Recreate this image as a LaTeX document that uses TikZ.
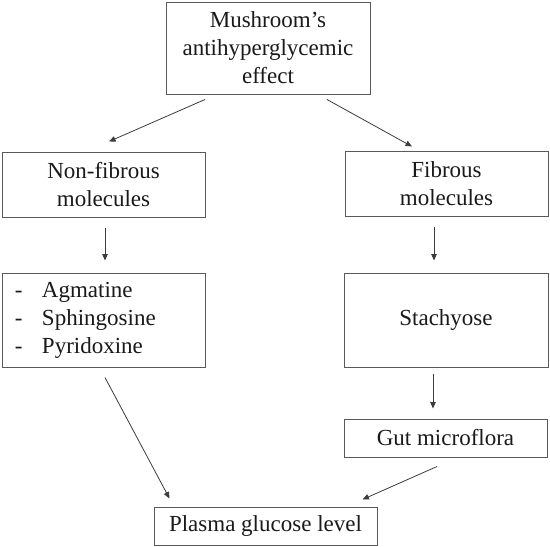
\documentclass[tikz,border=0pt]{standalone}
\usepackage{fontspec}
\setmainfont{Liberation Serif}
\usetikzlibrary{calc,arrows.meta}
\definecolor{boxline}{HTML}{5A5A5A}
\definecolor{arrline}{HTML}{3C3C3C}
\definecolor{txt}{HTML}{1A1A1A}
\begin{document}
\begin{tikzpicture}[x=1pt,y=-1pt,
  box/.style={draw=boxline,line width=1pt,rectangle,inner sep=0pt,text=txt,align=center,
    font=\fontsize{23}{28}\selectfont},
  arr/.style={draw=arrline,line width=0.8pt,-{Triangle[length=6.5pt,width=5.5pt]}}]
\useasboundingbox (0,0) rectangle (550,547);
\fill[white] (0,0) rectangle (550,547);
\node[box,minimum width=204pt,minimum height=92pt] (top) at (268,48)
  {Mushroom’s\\antihyperglycemic\\effect};
\node[box,minimum width=203pt,minimum height=65pt] (nonfib) at (103.5,184.5)
  {Non-fibrous\\molecules};
\node[box,minimum width=203pt,minimum height=65pt] (fib) at (446.5,184)
  {Fibrous\\molecules};
\node[box,minimum width=203pt,minimum height=94pt,align=left,text width=177pt,inner xsep=13pt] (list) at (103.5,320)
  {\makebox[27pt][l]{-}Agmatine\\\makebox[27pt][l]{-}Sphingosine\\\makebox[27pt][l]{-}Pyridoxine};
\node[box,minimum width=204pt,minimum height=94pt] (stach) at (446,320) {Stachyose};
\node[box,minimum width=203pt,minimum height=38pt] (gut) at (445.5,438) {Gut microflora};
\node[box,minimum width=223pt,minimum height=38pt] (plasma) at (265.5,526) {Plasma glucose level};
\draw[arr] ($(top.south)+(-63,5)$) -- ($(nonfib.north)+(5.5,-10)$);
\draw[arr] ($(top.south)+(59,5)$) -- ($(fib.north)+(-34.5,-4.5)$);
\draw[arr] ($(nonfib.south)+(1.5,10)$) -- ($(list.north)+(1.5,-12)$);
\draw[arr] ($(fib.south)+(-12.5,10)$) -- ($(stach.north)+(-12,-12)$);
\draw[arr] ($(stach.south)+(-13,6)$) -- ($(gut.north)+(-12.5,-10)$);
\draw[arr] ($(list.south)+(1.5,10)$) -- ($(plasma.north west)+(16,-8)$);
\draw[arr] ($(gut.south)+(-8.5,9)$) -- ($(plasma.north east)+(-15,-7)$);
\end{tikzpicture}
\end{document}
